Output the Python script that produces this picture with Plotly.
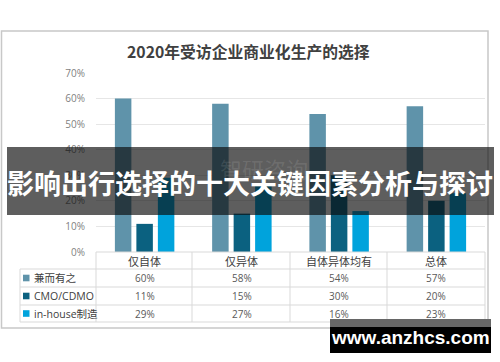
import plotly.graph_objects as go

categories = ["仅自体", "仅异体", "自体异体均有", "总体"]
series_names = ["兼而有之", "CMO/CDMO", "in-house制造"]
v_both = [0.60, 0.58, 0.54, 0.57]
v_cmo = [0.11, 0.15, 0.30, 0.20]
v_inhouse = [0.29, 0.27, 0.16, 0.23]
colors = ["#5f93aa", "#0b6180", "#00a3dc"]
title = "2020年受访企业商业化生产的选择"
banner = "影响出行选择的十大关键因素分析与探讨"
site = "www.anzhcs.com"
logo = "智研咨询"

W, H = 500, 362
def px(x): return x / W
def py(y): return 1 - y / H

series = [v_both, v_cmo, v_inhouse]
fig = go.Figure()
for name, vals, c in zip(series_names, series, colors):
    fig.add_trace(go.Bar(x=categories, y=vals, name=name, marker=dict(color=c, line=dict(width=0))))

FONT = "Open Sans, Noto Sans CJK SC, sans-serif"
CJK = "Noto Sans CJK SC, sans-serif"

x0, x1 = 96, 485
ytop, ybot = 73, 252
fig.update_layout(
    template="none",
    width=W, height=H, margin=dict(l=0, r=0, t=0, b=0, pad=0, autoexpand=False),
    paper_bgcolor="white", plot_bgcolor="white",
    barmode="group", bargap=0.337, bargroupgap=0.233,
    showlegend=False,
    xaxis=dict(domain=[px(x0), px(x1)], range=[-0.5, 3.5], showticklabels=False, automargin=False,
               showgrid=False, zeroline=False, showline=False, fixedrange=True, ticks=""),
    yaxis=dict(domain=[py(ybot), py(ytop)], range=[0, 0.7], dtick=0.1, tickformat=".0%", automargin=False,
               showgrid=True, gridcolor="#e6e6e6", gridwidth=1, zeroline=False, showline=False,
               ticks="", ticklabelstandoff=10, fixedrange=True,
               tickfont=dict(family=FONT, size=10, color="#7f7f7f")),
)

def A(text, x, y, size, color, family=CJK, xref="paper", xanchor="center"):
    return dict(text=text, xref=xref, yref="paper", x=x, y=py(y), xanchor=xanchor, yanchor="middle",
                showarrow=False, font=dict(family=family, size=size, color=color))

shapes = []
shapes.append(dict(type="rect", xref="paper", yref="paper", x0=px(1.5), x1=px(488), y0=py(328), y1=py(31),
                   line=dict(color="#c8c8c8", width=1.5), layer="below"))
lc = "#d9d9d9"
shapes.append(dict(type="line", xref="paper", yref="paper", x0=px(x0), x1=px(x1), y0=py(252), y1=py(252), line=dict(color=lc, width=1)))
for yy in [269, 287, 305, 322]:
    shapes.append(dict(type="line", xref="paper", yref="paper", x0=px(20), x1=px(x1), y0=py(yy), y1=py(yy), line=dict(color=lc, width=1)))
for xx in [96, 192, 290, 387, 485]:
    shapes.append(dict(type="line", xref="paper", yref="paper", x0=px(xx), x1=px(xx), y0=py(252), y1=py(322), line=dict(color=lc, width=1)))
shapes.append(dict(type="line", xref="paper", yref="paper", x0=px(20), x1=px(20), y0=py(269), y1=py(322), line=dict(color=lc, width=1)))

ann = []
ann.append(A("<b>" + title + "</b>", px(248), 51, 15.8, "#404040"))
row_y = [278, 296, 313.5]
for i, cat in enumerate(categories):
    ann.append(A(cat, cat, 260.5, 11, "#404040", xref="x"))
    for r, vals in enumerate(series):
        ann.append(A(f"{round(vals[i]*100)}%", cat, row_y[r], 10, "#595959", family=FONT, xref="x"))
for r, (name, c) in enumerate(zip(series_names, colors)):
    shapes.append(dict(type="rect", xref="paper", yref="paper", x0=px(23), x1=px(29.5),
                       y0=py(row_y[r] + 3.3), y1=py(row_y[r] - 3.3), fillcolor=c, line=dict(width=0)))
    ann.append(A(name, px(31.5), row_y[r], 10.5, "#404040", family=FONT, xanchor="left"))

shapes.append(dict(type="rect", xref="paper", yref="paper", x0=px(7), x1=px(494), y0=py(215), y1=py(147),
                   fillcolor="rgba(10,10,10,0.66)", line=dict(width=0), layer="above"))
ann.append(A(logo, px(264), 168, 22, "rgba(255,255,255,0.10)"))
ann.append(A("<b>" + banner + "</b>", px(250), 182, 27, "white"))

shapes.append(dict(type="rect", xref="paper", yref="paper", x0=px(330), x1=px(491), y0=py(327), y1=py(319),
                   fillcolor="#666666", line=dict(width=0), layer="above"))
shapes.append(dict(type="rect", xref="paper", yref="paper", x0=px(330), x1=px(491), y0=py(353), y1=py(327),
                   fillcolor="black", line=dict(width=0), layer="above"))
ann.append(A("<b>" + site + "</b>", px(410), 337, 19, "white", family="Liberation Sans, Arial, sans-serif"))

fig.update_layout(shapes=shapes, annotations=ann)
fig.write_html("out.html", config={"displayModeBar": False, "staticPlot": True},
               post_script="document.body.style.margin='0';document.body.style.overflow='hidden';")
